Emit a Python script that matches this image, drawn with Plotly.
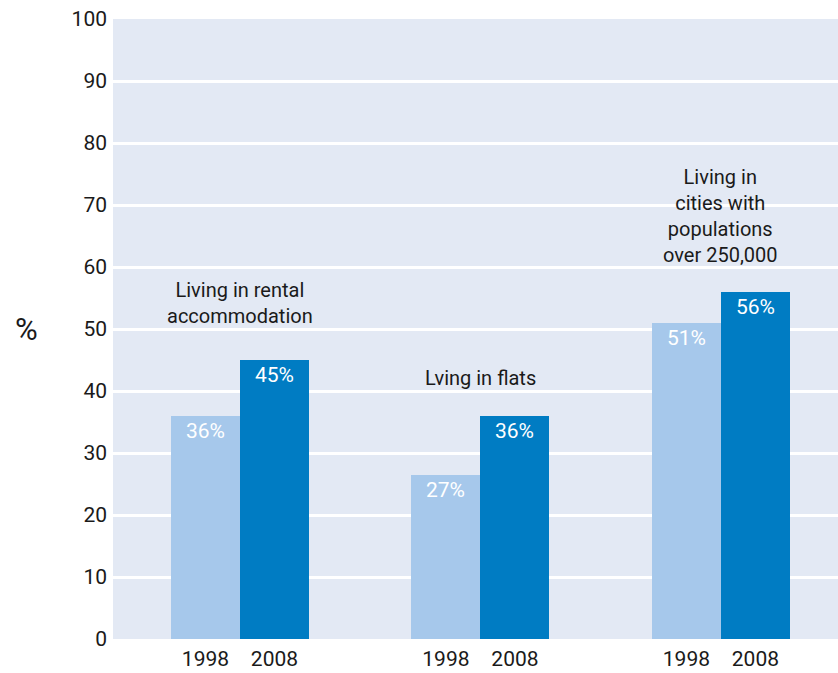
import plotly.graph_objects as go

groups = ["Living in rental<br>accommodation", "Lving in flats",
          "Living in<br>cities with<br>populations<br>over 250,000"]
years = ["1998", "2008"]
values_1998 = [36, 26.4, 51]
values_2008 = [45, 36, 56]
labels_1998 = ["36%", "27%", "51%"]
labels_2008 = ["45%", "36%", "56%"]
yticks = list(range(0, 101, 10))

FONT = "Roboto, sans-serif"
TXT = "#1a1a1a"
w = 0.287
xs = list(range(len(groups)))
label_shift = [30, 24, 23]

fig = go.Figure()
for vals, labs, col, off in [(values_1998, labels_1998, "#a6c8eb", -w),
                             (values_2008, labels_2008, "#007cc3", 0)]:
    fig.add_trace(go.Bar(
        x=xs, y=vals, width=w, offset=off, marker=dict(color=col, line=dict(width=0)),
        text=labs, textposition="inside", insidetextanchor="end",
        textfont=dict(color="white", size=21, family=FONT),
        textangle=0, hoverinfo="skip", showlegend=False))

for i, g in enumerate(groups):
    fig.add_annotation(x=i, y=max(values_1998[i], values_2008[i]), text=g,
                       showarrow=False, yanchor="bottom", yshift=label_shift[i],
                       font=dict(size=20, color=TXT, family=FONT))

fig.add_annotation(xref="paper", yref="paper", x=-0.12, y=0.5, text="%",
                   showarrow=False, xanchor="center", yanchor="middle",
                   font=dict(size=31, color=TXT, family=FONT))

tickvals, ticktext = [], []
for i in xs:
    tickvals += [i - w / 2, i + w / 2]
    ticktext += years

fig.update_layout(
    width=838, height=673,
    margin=dict(l=113, r=0, t=19, b=34, autoexpand=False),
    plot_bgcolor="#e3e9f4", paper_bgcolor="white",
    bargap=0,
    xaxis=dict(range=[-0.528, 2.487], tickvals=tickvals, ticktext=ticktext,
               showgrid=False, zeroline=False, showline=False, ticks="",
               automargin=False, ticklabelstandoff=5,
               tickfont=dict(size=21, color=TXT, family=FONT)),
    yaxis=dict(range=[0, 100], tickvals=yticks, showgrid=True, gridcolor="white",
               gridwidth=3, zeroline=False, showline=False, ticks="",
               automargin=False, ticklabelstandoff=5,
               tickfont=dict(size=21, color=TXT, family=FONT)),
    uniformtext=dict(mode=False),
)
fig.write_html("out.html", config={"displayModeBar": False},
               post_script="document.body.style.margin='0';document.body.style.overflow='hidden';")
